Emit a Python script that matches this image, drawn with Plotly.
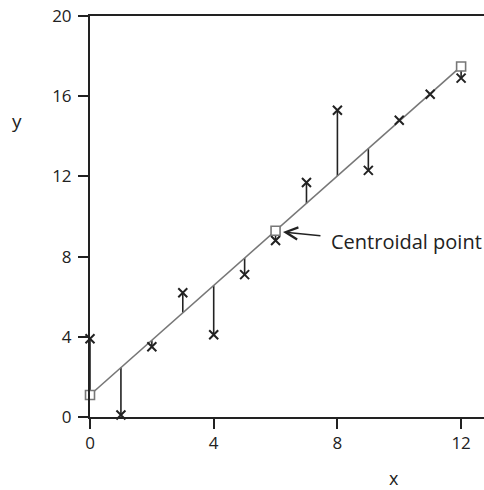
import numpy as np
import plotly.graph_objects as go

x_vals = [0, 1, 2, 3, 4, 5, 6, 7, 8, 9, 10, 11, 12]
y_vals = [3.9, 0.1, 3.5, 6.2, 4.1, 7.1, 8.8, 11.7, 15.3, 12.3, 14.8, 16.1, 16.9]
x_ticks = [0, 4, 8, 12]
y_ticks = [0, 4, 8, 12, 16, 20]

xa = np.array(x_vals, dtype=float)
ya = np.array(y_vals, dtype=float)
slope, intercept = np.polyfit(xa, ya, 1)
fit = intercept + slope * xa
cx, cy = xa.mean(), ya.mean()

INK = "#222222"
GREY = "#777777"
FONT = "Open Sans"

fig = go.Figure()

# residual segments
rx, ry = [], []
for xi, yi, fi in zip(xa, ya, fit):
    rx += [xi, xi, None]
    ry += [yi, fi, None]
fig.add_trace(go.Scatter(x=rx, y=ry, mode="lines",
                         line=dict(color=INK, width=1.6),
                         cliponaxis=False, hoverinfo="skip"))

# regression line
fig.add_trace(go.Scatter(x=[xa.min(), xa.max()], y=[fit[0], fit[-1]], mode="lines",
                         line=dict(color=GREY, width=1.6), cliponaxis=False))

# data points
fig.add_trace(go.Scatter(x=xa, y=ya, mode="markers",
                         marker=dict(symbol="x-thin", size=9,
                                     line=dict(color=INK, width=2)),
                         cliponaxis=False))

# open squares: line ends and centroid
fig.add_trace(go.Scatter(x=[xa.min(), cx, xa.max()], y=[fit[0], cy, fit[-1]],
                         mode="markers",
                         marker=dict(symbol="square", size=9, color="white",
                                     line=dict(color=GREY, width=1.6)),
                         cliponaxis=False))

fig.add_annotation(x=cx + 0.24, y=cy - 0.06, ax=cx + 1.5, ay=cy - 0.26,
                   xref="x", yref="y", axref="x", ayref="y",
                   text="", showarrow=True, arrowhead=5, arrowsize=1.6,
                   arrowwidth=1.5, arrowcolor=INK)
fig.add_annotation(x=cx + 1.74, y=cy - 0.56, xref="x", yref="y",
                   text="Centroidal point", showarrow=False, xanchor="left",
                   yanchor="middle", font=dict(family=FONT, size=20, color=INK))

fig.add_annotation(x=-0.185, y=0.738, xref="paper", yref="paper", text="y",
                   xanchor="center", yanchor="middle",
                   showarrow=False, font=dict(family=FONT, size=19, color=INK))
fig.add_annotation(x=0.772, y=-0.151, xref="paper", yref="paper", text="x",
                   xanchor="center", yanchor="middle",
                   showarrow=False, font=dict(family=FONT, size=18, color=INK))

fig.update_layout(
    width=484, height=490,
    margin=dict(l=90, r=0, t=16, b=73),
    plot_bgcolor="white", paper_bgcolor="white",
    showlegend=False,
    font=dict(family=FONT, size=15, color=INK),
    xaxis=dict(range=[0, 12.74], tickvals=x_ticks, showgrid=False, zeroline=False,
               showline=True, linecolor=INK, linewidth=2, mirror=True,
               ticks="outside", ticklen=10, tickwidth=2, tickcolor=INK,
               tickfont=dict(family=FONT, size=17, color=INK)),
    yaxis=dict(range=[0, 20], tickvals=y_ticks, showgrid=False, zeroline=False,
               showline=True, linecolor=INK, linewidth=2,
               ticks="outside", ticklen=10, tickwidth=2, tickcolor=INK,
               ticklabelstandoff=3,
               tickfont=dict(family=FONT, size=17, color=INK)),
)

fig.write_html("out.html", config={"displayModeBar": False},
               post_script="document.body.style.margin='0px';document.body.style.overflow='hidden';")
